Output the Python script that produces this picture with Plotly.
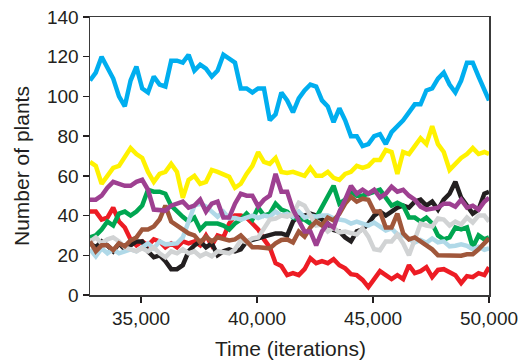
import plotly.graph_objects as go

# Time axis (iterations): samples every 250 iterations, plus the end point
time = [32800 + 250 * i for i in range(69)] + [50000]

blue = [108, 112, 120, 114, 109, 100, 95, 108, 115, 104, 102, 110, 106, 105, 118, 118, 117, 121, 113, 116,
        114, 110, 113, 121, 119, 117, 104, 104, 102, 104, 104, 88, 91, 102, 98, 92, 99, 103, 106, 105,
        98, 95, 87, 94, 88, 80, 80, 75, 76, 80, 81, 76, 82, 85, 88, 92, 96, 96, 103, 104,
        109, 112, 106, 102, 108, 117, 117, 110, 104, 98]
yellow = [67, 65, 56, 60, 64, 65, 70, 74, 71, 69, 62, 57, 61, 62, 66, 62, 49, 58, 60, 56,
          57, 63, 62, 61, 59.5, 54, 56, 61, 65, 72, 67, 66, 69, 62, 61.5, 62, 61, 60, 64, 60,
          60, 62, 59, 58, 61, 62, 65, 64, 65, 68, 68, 73, 72, 61, 72, 71, 75, 79, 76, 85,
          76, 72, 63, 66, 69, 71, 74, 71, 72, 71]
purple = [48, 48, 50, 54, 57, 56, 55, 55, 57, 58, 53, 43, 43, 42.5, 45, 46, 47, 44, 45, 48,
          42, 46, 47, 39, 39, 46, 51, 50, 50, 44.6, 48, 50, 61, 52, 52, 43, 38, 32, 32, 25,
          32, 36, 34, 42, 48, 55, 51, 53, 51, 53, 49, 51, 54.5, 52, 53, 50, 48, 44.5, 43, 43.5,
          44, 46, 46, 44.5, 48, 44, 45, 43, 47, 49]
red = [42, 42, 38, 39, 44, 37, 34, 28, 25, 27, 25, 28, 27, 24, 26, 24, 27, 26, 27, 25,
       30, 25, 30, 29, 36, 40, 40, 39, 36, 33, 28, 24, 16, 14.6, 10, 11, 10, 13, 18.5, 16,
       17, 16, 18, 15, 13.4, 10.5, 10, 7.6, 4, 8, 12, 10, 8, 10, 8, 15, 11, 12, 14, 9,
       12.6, 13, 11.5, 10, 6, 9.5, 9, 11, 10, 14]
green = [29, 30, 33, 37, 35, 41, 42, 40, 42, 45, 53, 52, 52, 51, 45, 42, 39.4, 37, 39, 33,
         36, 36, 36, 35, 33, 36, 38, 41, 38, 44, 40, 41, 46, 43, 42, 39, 38, 38, 36, 39,
         44, 50, 55, 46, 48, 52, 50, 50, 51, 52, 53, 49, 45, 46.5, 45, 39, 39, 37, 39, 36,
         30, 28, 29, 34, 33, 34, 24, 30, 28, 29]
black = [26, 24, 27, 25, 22, 26, 23, 25, 27, 27, 22, 19, 20, 17, 13, 13, 15, 22, 25, 27,
         24, 26, 20, 22, 23, 22, 23, 27, 28, 28.5, 29.4, 30, 31, 31, 30, 37, 40, 40, 41, 40,
         38, 36, 32.7, 32, 29, 27, 32, 33, 36, 40, 42, 40, 42, 44, 45, 44, 47, 48, 45, 47,
         43, 48, 51, 57, 49, 45, 41, 43, 51, 52]
brown = [27, 22, 25, 25, 22.6, 26, 24.5, 27.5, 29, 33, 33, 34.5, 38, 45, 37, 35, 33, 31, 30, 26.5,
         29.4, 27, 29, 28.5, 27.5, 28, 30, 27, 24, 24, 23.5, 23.5, 26, 27.7, 28, 26.5, 32, 29.4, 34, 37,
         35, 39, 37.5, 41, 46, 49.5, 47, 48.5, 48, 42, 42, 34, 34, 41, 31, 28, 29, 27, 25.5, 23,
         20, 20, 19.5, 20, 19.8, 20.5, 20.5, 23, 26, 28.5]
lightblue = [23, 19.5, 23.5, 21, 23, 21, 22, 23, 22, 24, 26, 23.5, 27, 25.5, 26, 26, 29, 37, 45, 46,
             44.6, 42, 39.4, 42, 38.6, 38.8, 38, 39, 40, 38.8, 40, 39.4, 42, 40, 41, 39.4, 42, 39, 40, 39.4,
             40, 40, 38.6, 38, 37.5, 36, 37, 36, 35, 36.5, 34.4, 32.5, 33.6, 30.5, 30, 28.5, 26.5, 27.7, 26.3, 28.5,
             26.5, 27, 24.5, 24.8, 25.5, 24.8, 23, 24.3, 22.8, 23.5]
grey = [27, 29, 26, 28, 29, 27, 24, 23, 22, 23.5, 22, 24, 21, 19, 22, 21, 23, 21, 22, 19.5,
        21, 19.5, 22, 21.5, 21, 23, 27.5, 26.5, 28.5, 29, 34, 38, 38.5, 40, 39.5, 41, 46.5, 45, 40, 35,
        35.5, 32, 34, 31.5, 32, 31, 30.5, 33.6, 29.4, 23, 22.5, 27, 27, 30.5, 26, 20, 28, 36, 35, 34.5,
        38.5, 38, 35, 37, 35.5, 39, 36.5, 40, 40, 37]

x_ticks = [35000, 40000, 45000, 50000]
x_tick_labels = ["35,000", "40,000", "45,000", "50,000"]
y_ticks = [0, 20, 40, 60, 80, 100, 120, 140]

series = [
    ("red", red, "#ED1C24"),
    ("black", black, "#231F20"),
    ("green", green, "#00A651"),
    ("light blue", lightblue, "#B0D9E8"),
    ("grey", grey, "#D1D3D4"),
    ("brown", brown, "#A0573B"),
    ("purple", purple, "#9E4091"),
    ("yellow", yellow, "#FFF200"),
    ("blue", blue, "#00AEEF"),
]

fig = go.Figure()
for name, vals, col in series:
    fig.add_trace(go.Scatter(x=time, y=vals, mode="lines", name=name,
                             line=dict(color=col, width=4.5), showlegend=False,
                             hoverinfo="skip"))

axis_font = dict(family="Liberation Sans, Arial, sans-serif", size=19, color="#231F20")
title_font = dict(family="Liberation Sans, Arial, sans-serif", size=21, color="#231F20")

fig.update_layout(
    width=520, height=360,
    margin=dict(l=90, r=31, t=17, b=65, autoexpand=False),
    paper_bgcolor="white", plot_bgcolor="white",
    font=axis_font,
    xaxis=dict(range=[32800, 50000], tickvals=x_ticks, ticktext=x_tick_labels,
               ticks="outside", ticklen=6, tickwidth=1.3, tickcolor="#231F20",
               showline=True, linecolor="#3a3a3a", linewidth=1.5, mirror=True,
               showgrid=False, zeroline=False, tickfont=axis_font, automargin=False),
    yaxis=dict(range=[0, 140], tickvals=y_ticks,
               ticks="outside", ticklen=6, tickwidth=1.3, tickcolor="#231F20",
               showline=True, linecolor="#3a3a3a", linewidth=1.5, mirror=True,
               showgrid=False, zeroline=False, tickfont=axis_font, automargin=False),
    annotations=[
        dict(text="Time (iterations)", xref="paper", yref="paper", x=0.5025, y=-0.194,
             xanchor="center", yanchor="middle", showarrow=False, font=title_font),
        dict(text="Number of plants", xref="paper", yref="paper", x=-0.173, y=0.464,
             xanchor="center", yanchor="middle", textangle=-90, showarrow=False, font=title_font),
    ],
)

fig.write_html(
    "out.html",
    config={"displayModeBar": False, "staticPlot": True},
    post_script=(
        "document.documentElement.style.margin='0';"
        "document.documentElement.style.padding='0';"
        "document.documentElement.style.overflow='hidden';"
        "document.body.style.margin='0';"
        "document.body.style.padding='0';"
        "document.body.style.overflow='hidden';"
    ),
)
